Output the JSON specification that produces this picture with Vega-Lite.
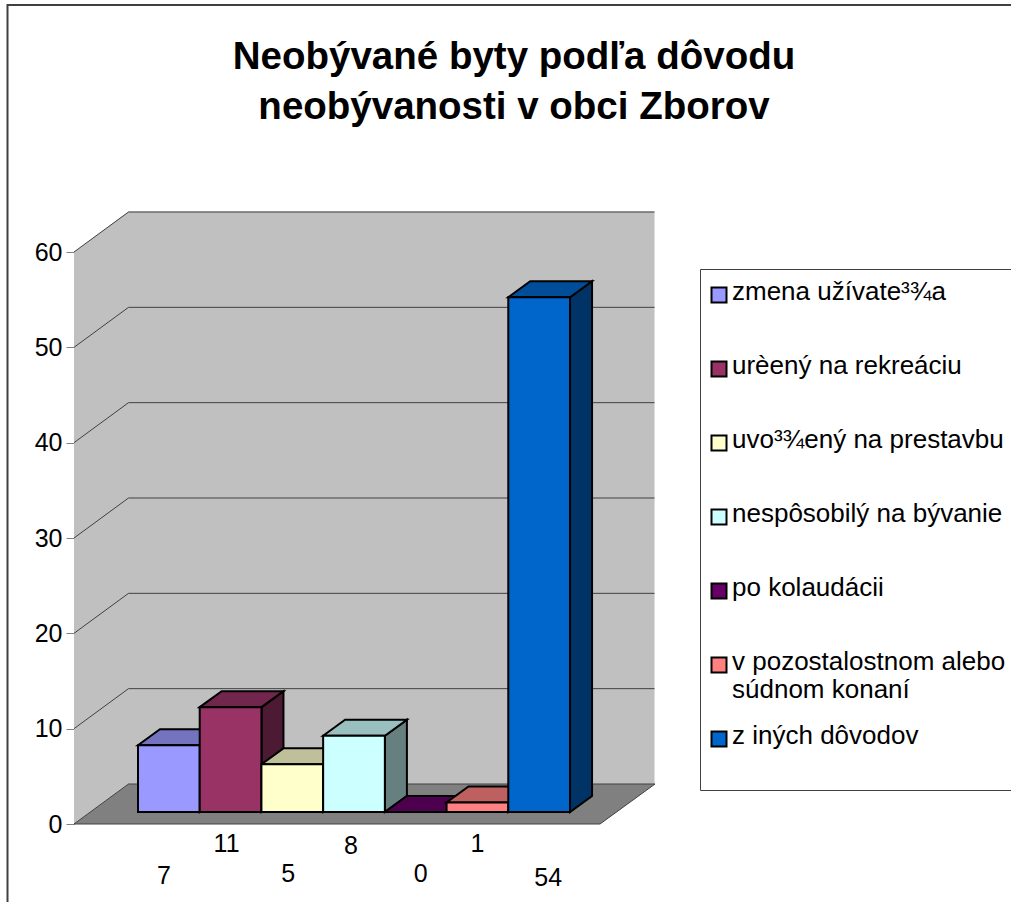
{
"$schema":"https://vega.github.io/schema/vega-lite/v6.json",
"autosize":"none",
"width":526,"height":572,
"padding":{"left":74,"top":252,"right":411,"bottom":78},
"background":"white",
"config":{"view":{"stroke":null},"font":"Liberation Sans"},
"title":{"text":["Neobývané byty podľa dôvodu","neobývanosti v obci Zborov"],"font":"Liberation Sans","fontSize":38.5,"fontWeight":"bold","color":"black","lineHeight":50,"anchor":"middle","frame":"group","dx":177,"offset":-126},
"datasets":{
"bars":[
{"dovod":"zmena užívate³¾a","pocet":7},
{"dovod":"urèený na rekreáciu","pocet":11},
{"dovod":"uvo³¾ený na prestavbu","pocet":5},
{"dovod":"nespôsobilý na bývanie","pocet":8},
{"dovod":"po kolaudácii","pocet":0},
{"dovod":"v pozostalostnom alebo súdnom konaní","pocet":1},
{"dovod":"z iných dôvodov","pocet":54}],
"grid":[{"v":10},{"v":20},{"v":30},{"v":40},{"v":50},{"v":60}],
"one":[{"k":"frame"}]
},
"layer":[
{"data":{"name":"one"},"mark":{"type":"point","filled":false,"opacity":1,"stroke":"#404040","strokeWidth":2,"shape":"M-66.5,100 L-66.5,-819 L1000,-819"},"encoding":{"x":{"value":0},"y":{"datum":0,"type":"quantitative","scale":{"domain":[0,60]}},"size":{"value":4}}},
{"data":{"name":"one"},"mark":{"type":"point","filled":true,"opacity":1,"fill":"#C0C0C0","stroke":null,"shape":"M0,0 L54.5,-40 L580.5,-40 L580.5,-612.5 L54.5,-612.5 L0,-572 Z"},"encoding":{"x":{"value":0},"y":{"datum":0,"type":"quantitative"},"size":{"value":4}}},
{"data":{"name":"one"},"mark":{"type":"point","filled":true,"opacity":1,"fill":"#808080","stroke":"#404040","strokeWidth":1,"shape":"M0,0 L54.5,-40 L581,-40 L526,0 Z"},"encoding":{"x":{"value":0},"y":{"datum":0,"type":"quantitative"},"size":{"value":4}}},
{"data":{"name":"grid"},"mark":{"type":"rule","stroke":"#404040","strokeWidth":1,"yOffset":-40,"y2Offset":-40},"encoding":{"x":{"value":54.5},"x2":{"value":580.5},"y":{"field":"v","type":"quantitative"},"y2":{"field":"v"}}},
{"data":{"name":"grid"},"mark":{"type":"rule","stroke":"#404040","strokeWidth":1,"y2Offset":-40},"encoding":{"x":{"value":0},"x2":{"value":54.5},"y":{"field":"v","type":"quantitative"},"y2":{"field":"v"}}},
{"data":{"name":"bars"},"mark":{"type":"point","filled":true,"opacity":1,"stroke":"black","strokeWidth":2,"yOffset":-12},"encoding":{
"x":{"field":"dovod","type":"nominal","sort":null,"scale":{"type":"band","range":[64,496],"paddingInner":0,"paddingOuter":0},"axis":null},
"y":{"field":"pocet","type":"quantitative"},
"size":{"value":4},
"shape":{"field":"dovod","type":"nominal","legend":null,"scale":{"domain":["zmena užívate³¾a","urèený na rekreáciu","uvo³¾ený na prestavbu","nespôsobilý na bývanie","po kolaudácii","v pozostalostnom alebo súdnom konaní","z iných dôvodov"],"range":["M30.9,0 L52.9,-16 L52.9,50.7 L30.9,66.7 Z","M30.9,0 L52.9,-16 L52.9,88.9 L30.9,104.9 Z","M30.9,0 L52.9,-16 L52.9,31.7 L30.9,47.7 Z","M30.9,0 L52.9,-16 L52.9,60.3 L30.9,76.3 Z","M30.9,0 L52.9,-16 L30.9,0 Z","M30.9,0 L52.9,-16 L52.9,-6.5 L30.9,9.5 Z","M30.9,0 L52.9,-16 L52.9,498.8 L30.9,514.8 Z"]}},
"color":{"field":"dovod","type":"nominal","legend":null,"scale":{"domain":["zmena užívate³¾a","urèený na rekreáciu","uvo³¾ený na prestavbu","nespôsobilý na bývanie","po kolaudácii","v pozostalostnom alebo súdnom konaní","z iných dôvodov"],"range":["#4C4C80","#4C1A33","#808066","#668080","#330033","#804040","#003366"]}}
}},
{"data":{"name":"bars"},"mark":{"type":"point","filled":true,"opacity":1,"stroke":"black","strokeWidth":2,"yOffset":-12,"shape":"M-30.9,0 L-8.9,-16 L52.9,-16 L30.9,0 Z"},"encoding":{
"x":{"field":"dovod","type":"nominal","sort":null,"axis":null},
"y":{"field":"pocet","type":"quantitative"},
"size":{"value":4},
"color":{"field":"dovod","type":"nominal","legend":null,"scale":{"domain":["zmena užívate³¾a","urèený na rekreáciu","uvo³¾ený na prestavbu","nespôsobilý na bývanie","po kolaudácii","v pozostalostnom alebo súdnom konaní","z iných dôvodov"],"range":["#7373BF","#73264D","#BFBF99","#99BFBF","#4D004D","#BF6060","#004D99"]}}
}},
{"data":{"name":"bars"},"mark":{"type":"bar","stroke":"black","strokeWidth":2,"yOffset":-12,"y2Offset":-12},"encoding":{
"x":{"field":"dovod","type":"nominal","sort":null,"axis":null},
"y":{"field":"pocet","type":"quantitative","title":null,"axis":{"values":[0,10,20,30,40,50,60],"grid":false,"domain":true,"domainColor":"#808080","tickColor":"#808080","tickSize":8,"labelFont":"Liberation Sans","labelFontSize":25,"labelColor":"black","labelPadding":4}},
"color":{"field":"dovod","type":"nominal","scale":{"domain":["zmena užívate³¾a","urèený na rekreáciu","uvo³¾ený na prestavbu","nespôsobilý na bývanie","po kolaudácii","v pozostalostnom alebo súdnom konaní","z iných dôvodov"],"range":["#9999FF","#993366","#FFFFCC","#CCFFFF","#660066","#FF8080","#0066CC"]},
"legend":{"title":null,"orient":"none","legendX":626,"legendY":17,"padding":13,"fillColor":"white","strokeColor":"#404040","symbolType":"square","symbolSize":225,"symbolStrokeColor":"black","symbolStrokeWidth":2,"symbolOffset":-7,"labelFont":"Liberation Sans","labelFontSize":26,"labelColor":"black","labelLimit":400,"labelOffset":0,"rowPadding":20,"gridAlign":"all","labelExpr":"datum.label=='v pozostalostnom alebo súdnom konaní'?['v pozostalostnom alebo','súdnom konaní']:datum.label=='z iných dôvodov'?['z iných dôvodov',' ']:datum.label","encoding":{"labels":{"lineHeight":[{"test":"datum.value=='z iných dôvodov'","value":24},{"value":33}],"dy":{"value":-3}}}}}
}},
{"data":{"name":"bars"},"mark":{"type":"text","font":"Liberation Sans","fontSize":25,"color":"black","baseline":"middle","align":"center",
"dx":{"expr":"{'zmena užívate³¾a':-5,'urèený na rekreáciu':-4,'uvo³¾ený na prestavbu':-4,'nespôsobilý na bývanie':-3,'po kolaudácii':5,'v pozostalostnom alebo súdnom konaní':0,'z iných dôvodov':9}[datum.dovod]"},
"dy":{"expr":"{'zmena užívate³¾a':52,'urèený na rekreáciu':20,'uvo³¾ený na prestavbu':50,'nespôsobilý na bývanie':22,'po kolaudácii':50,'v pozostalostnom alebo súdnom konaní':20,'z iných dôvodov':54}[datum.dovod]"}},
"encoding":{"x":{"field":"dovod","type":"nominal","sort":null,"axis":null},"y":{"datum":0,"type":"quantitative"},"text":{"field":"pocet","type":"quantitative"}}}
],
"resolve":{"scale":{"color":"independent"}}
}
